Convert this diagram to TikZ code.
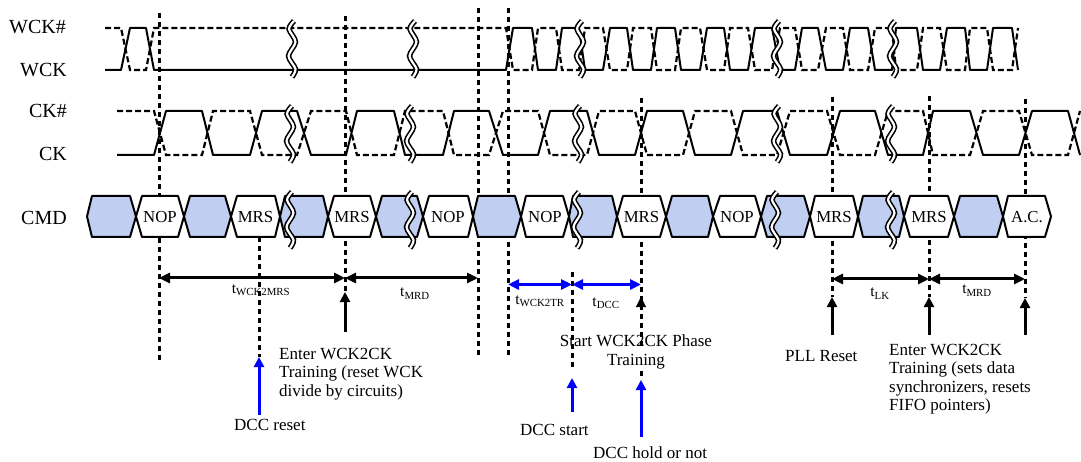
\documentclass[tikz,border=0pt]{standalone}
\usepackage{fontspec}
\setmainfont{Liberation Serif}
\usetikzlibrary{arrows.meta}

\definecolor{cmdblue}{RGB}{192,207,241}

\tikzset{
    wave/.style={line width=2pt,line join=round},
    wavedash/.style={line width=2.2pt,dash pattern=on 6pt off 3pt},
    guide/.style={line width=3pt,dash pattern=on 5pt off 4pt},
    cmdhex/.style={line width=2pt,line join=round},
    breakmark/.style={line width=1.6pt,double=white,double distance=2.2pt},
    dimblack/.style={line width=3pt,{Triangle[length=11pt,width=10pt]}-{Triangle[length=11pt,width=10pt]}},
    dimblue/.style={dimblack,blue},
    markarrow/.style={line width=3pt,-{Triangle[length=10pt,width=10pt]}},
    sig/.style={font=\fontsize{20}{22}\selectfont,anchor=base east,inner sep=0pt},
    cmdtext/.style={font=\fontsize{16.8}{18}\selectfont,inner sep=0pt},
    tlabel/.style={font=\fontsize{15.5}{16}\selectfont,anchor=base,inner sep=0pt},
    note/.style={font=\fontsize{17}{18.5}\selectfont,inner sep=0pt}
}

% one line of the differential pair, #1 style, #2 first level, #3 other level
\newcommand{\wckwave}[3]{
    \draw[#1] (105,#2) -- (121,#2) -- (130,#3) -- (146,#3) -- (154,#2) -- (506,#2) -- (513,#3) -- (532,#3)
        -- (538,#2) -- (556,#2) -- (562,#3) -- (579,#3) -- (585,#2) -- (603,#2) -- (610,#3) -- (627,#3)
        -- (633,#2) -- (651,#2) -- (657,#3) -- (675,#3) -- (681,#2) -- (700,#2) -- (707,#3) -- (724,#3)
        -- (730,#2) -- (748,#2) -- (755,#3) -- (772,#3) -- (780,#2) -- (795,#2) -- (802,#3) -- (818,#3)
        -- (826,#2) -- (843,#2) -- (850,#3) -- (868,#3) -- (875,#2) -- (892,#2) -- (896,#3) -- (917,#3)
        -- (923,#2) -- (940,#2) -- (947,#3) -- (965,#3) -- (970,#2) -- (987,#2) -- (993,#3) -- (1012,#3)
        -- (1018,#2);
}
\newcommand{\ckwave}[3]{
    \draw[#1] (117,#2) -- (154,#2) -- (166,#3) -- (202,#3) -- (213,#2) -- (250,#2) -- (262,#3) -- (297,#3)
        -- (311,#2) -- (346,#2) -- (357,#3) -- (394,#3) -- (405,#2) -- (443,#2) -- (454,#3) -- (489,#3)
        -- (503,#2) -- (538,#2) -- (550,#3) -- (587,#3) -- (599,#2) -- (635,#2) -- (647,#3) -- (683,#3)
        -- (695,#2) -- (731,#2) -- (743,#3) -- (777,#3) -- (790,#2) -- (827,#2) -- (840,#3) -- (875,#3)
        -- (888,#2) -- (923,#2) -- (933,#3) -- (970,#3) -- (983,#2) -- (1019,#2) -- (1032,#3) -- (1068,#3)
        -- (1080,#2);
}
% broken time axis, #1 x, #2 top y
\newcommand{\axisbreak}[2]{
    \draw[breakmark] plot[smooth] coordinates {(#1+2,#2) (#1-3,#2+8) (#1+3.5,#2+21) (#1-3.5,#2+35) (#1+3.5,#2+48) (#1,#2+56)};
}

\begin{document}
\begin{tikzpicture}[x=1pt,y=-1pt]
    \useasboundingbox (0,0) rectangle (1081,462);

    % Vertical guides
    \foreach \name/\xx/\ytop/\ybot in {ga/159/13/361, gb/259/237/357, gc/345/16/292, gd/478/8/357,
        ge/508/8/357, gf/572/272/367, gg/641/98/347, gh/832/97/297, gi/929/96/297, gj/1025/99/298} {
        \coordinate (\name top) at (\xx,\ytop);
        \coordinate (\name bot) at (\xx,\ybot);
        \draw[guide] (\name top) -- (\name bot);
    }
    \coordinate (gglow) at (641,371);
    \coordinate (ggtip) at (641,380);
    \draw[guide] (gglow) -- (ggtip);

    % Clocks
    \wckwave{wavedash}{28}{70}
    \wckwave{wave}{70}{28}
    \ckwave{wavedash}{111}{155}
    \ckwave{wave}{155}{111}

    % Signal names
    \node[sig] (wckn) at (66,34) {WCK\#};
    \node[sig] (wck) at (67,77) {WCK};
    \node[sig] (ckn) at (67,118) {CK\#};
    \node[sig] (ck) at (67,161) {CK};
    \node[sig] (cmd) at (67,224.5) {CMD};

    % Command bus
    \foreach \i/\xa/\xb/\xc/\xd/\col/\txt in {
        1/87/92/130/136/cmdblue/, 2/136/142/178/184/white/NOP, 3/184/190/225/231/cmdblue/,
        4/231/237/275/280/white/MRS, 5/280/285/323/328/cmdblue/, 6/328/334/370/376/white/MRS,
        7/376/382/417/423/cmdblue/, 8/423/429/468/473/white/NOP, 9/473/478/515/521/cmdblue/,
        10/521/526/563/569/white/NOP, 11/569/573/612/617/cmdblue/, 12/617/623/660/666/white/MRS,
        13/666/672/708/713/cmdblue/, 14/713/720/755/761/white/NOP, 15/761/767/804/810/cmdblue/,
        16/810/815/853/858/white/MRS, 17/858/863/899/904/cmdblue/, 18/904/910/948/954/white/MRS,
        19/954/960/997/1003/cmdblue/, 20/1003/1008/1045/1051/white/A.C.} {
        \draw[cmdhex,fill=\col] (\xa,216.5) -- (\xb,196) -- (\xc,196) -- (\xd,216.5) -- (\xc,237) -- (\xb,237) -- cycle;
        \node[cmdtext] (hex\i) at ({(\xa+\xd)/2},217) {\txt};
    }

    % Breaks in the time axis
    \foreach \xx in {292,413,580,777,893} {\axisbreak{\xx}{21}}
    \foreach \xx in {290,410,578,777,891} {\axisbreak{\xx}{106}}
    \foreach \xx in {290,410,577,775,891} {\axisbreak{\xx}{192}}

    % Timing spans
    \coordinate (da) at (159,278);
    \coordinate (db) at (345,278);
    \coordinate (dc) at (478,278);
    \coordinate (dd) at (508,284.5);
    \coordinate (de) at (572,284.5);
    \coordinate (df) at (641,284.5);
    \coordinate (dg) at (832,279);
    \coordinate (dh) at (929,279);
    \coordinate (di) at (1025,279);
    \draw[dimblack] (da) -- (db);
    \draw[dimblack] (db) -- (dc);
    \draw[dimblue] (dd) -- (de);
    \draw[dimblue] (de) -- (df);
    \draw[dimblack] (dg) -- (dh);
    \draw[dimblack] (dh) -- (di);

    \node[tlabel] (twck2mrs) at (261,293) {t\textsubscript{WCK2MRS}};
    \node[tlabel] (tmrda) at (415,297) {t\textsubscript{MRD}};
    \node[tlabel] (twck2tr) at (540,304) {t\textsubscript{WCK2TR}};
    \node[tlabel] (tdcc) at (606,306) {t\textsubscript{DCC}};
    \node[tlabel] (tlk) at (880,297) {t\textsubscript{LK}};
    \node[tlabel] (tmrdb) at (977,294) {t\textsubscript{MRD}};

    % Notes under the arrows
    \node[note,anchor=north west,align=left] (enterone) at (279,348) {Enter WCK2CK\\Training (reset WCK\\divide by circuits)};
    \node[note,anchor=base west] (dccreset) at (234,430) {DCC reset};
    \node[note,anchor=north,align=center] (startphase) at (636,335) {Start WCK2CK Phase\\Training};
    \node[note,anchor=base west] (dccstart) at (520,435) {DCC start};
    \node[note,anchor=base west] (dcchold) at (593,458) {DCC hold or not};
    \node[note,anchor=base west] (pllreset) at (785,361) {PLL Reset};
    \node[note,anchor=north west,align=left] (entertwo) at (889,344) {Enter WCK2CK\\Training (sets data\\synchronizers, resets\\FIFO pointers)};

    % Event arrows
    \coordinate (aa) at (345,332);
    \coordinate (ab) at (259,415);
    \coordinate (ac) at (572,412);
    \coordinate (ad) at (641,437);
    \coordinate (ae) at (641,307);
    \coordinate (aetip) at (641,297);
    \coordinate (actip) at (572,378);
    \coordinate (af) at (832,335);
    \coordinate (ag) at (929,335);
    \coordinate (ah) at (1025,335);
    \draw[markarrow] (aa) -- (gcbot);
    \draw[markarrow,blue] (ab) -- (gbbot);
    \draw[markarrow,blue] (ac) -- (actip);
    \draw[markarrow,blue] (ad) -- (ggtip);
    \draw[-{Triangle[length=10pt,width=10pt]}] (ae) -- (aetip);
    \draw[markarrow] (af) -- (ghbot);
    \draw[markarrow] (ag) -- (gibot);
    \draw[markarrow] (ah) -- (gjbot);
\end{tikzpicture}
\end{document}
